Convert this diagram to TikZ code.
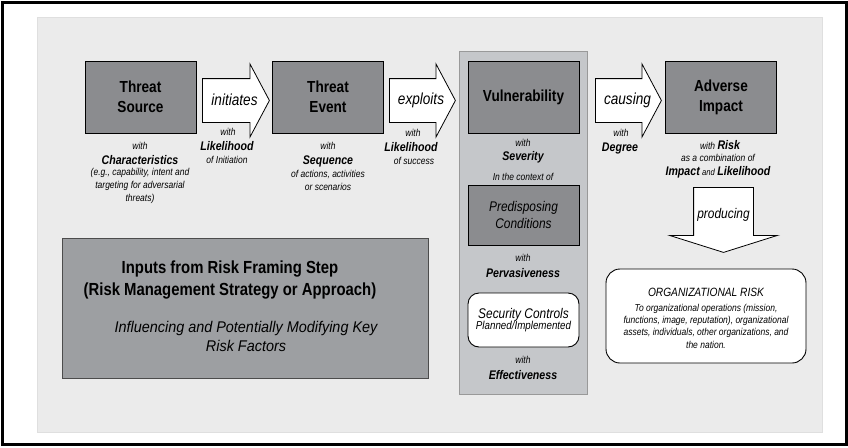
\documentclass[tikz,border=0pt]{standalone}
\usepackage{fontspec}
\setmainfont{Liberation Sans}[FakeStretch=0.85]
\newfontfamily\myriad{Liberation Sans}[FakeStretch=0.93]
\usetikzlibrary{shapes.arrows}

\definecolor{cinzaesc}{HTML}{8B8C8F}
\definecolor{cinzafundo}{HTML}{EBEBEB}
\definecolor{cinzacol}{HTML}{C5C7CA}
\definecolor{cinzaent}{HTML}{9D9FA2}

\begin{document}
\begin{tikzpicture}[
    x=1pt, y=-1pt,
    % Caixas escuras principais
    caixa/.style={
        draw, line width=0.9pt, fill=cinzaesc, inner sep=0pt,
        font=\fontsize{16}{20}\selectfont\bfseries,
        minimum width=111pt, minimum height=72pt, align=center
    },
    % Caixas brancas arredondadas
    caixab/.style={
        draw, line width=0.9pt, fill=white, rounded corners=11pt,
        inner sep=0pt, align=center
    },
    % Setas largas (sem texto; rótulo por cima)
    seta/.style={
        draw, line width=0.8pt, fill=white, single arrow, anchor=tail,
        single arrow head extend=14.5pt, single arrow head indent=0pt,
        single arrow tip angle=124, minimum height=67pt,
        inner xsep=0pt, inner ysep=21.5pt
    },
    rotseta/.style={inner sep=0pt, font=\fontsize{16}{18}\selectfont\itshape},
    % Textos
    com/.style={font=\fontsize{10}{13}\selectfont\itshape, inner sep=0pt, align=center},
    chave/.style={font=\fontsize{12.5}{14}\selectfont\bfseries\itshape, inner sep=0pt}
]
\useasboundingbox (0,0) rectangle (848,447);

% ---- FUNDO ----
\draw[line width=3pt] (2,2) rectangle (846,444);
\draw[fill=cinzafundo, draw=gray!25] (37,17) rectangle (822,432);
\draw[fill=cinzacol, draw=gray!80, line width=1pt] (459,51) rectangle (587,394);

% ---- NÍVEL 0: CAIXAS ----
\node[caixa] (fonte)   at (140.5,97) {Threat\\Source};
\node[caixa] (evento)  at (328,97)   {Threat\\Event};
\node[caixa] (vuln)    at (523.5,97) {Vulnerability};
\node[caixa] (impacto) at (721,97)   {Adverse\\Impact};

% ---- SETAS ----
\node[seta] (s_inic) at (202,100.5) {};
\node[seta, minimum height=66pt] (s_expl) at (389,100.5) {};
\node[seta, minimum height=66pt] (s_caus) at (595,100.5) {};
\node[rotseta] (s_inic_txt) at (234.5,100) {initiates};
\node[rotseta] (s_expl_txt) at (421,100)   {exploits};
\node[rotseta] (s_caus_txt) at (627.5,100) {causing};

% ---- FONTE DA AMEAÇA ----
\node[com]   (f_with) at (140,146) {with};
\node[chave] (f_car)  at (140,160) {Characteristics};
\node[com]   (f_nota) at (140,186) {(e.g., capability, intent and\\targeting for adversarial\\threats)};

\node[com]   (i_with) at (228,132) {with};
\node[chave] (i_prob) at (227,146) {Likelihood};
\node[com]   (i_nota) at (227,160) {of Initiation};

% ---- EVENTO ----
\node[com]   (e_with) at (328,146) {with};
\node[chave] (e_seq)  at (328,161) {Sequence};
\node[com]   (e_nota) at (328,180) {of actions, activities\\or scenarios};

\node[com]   (x_with) at (413,133) {with};
\node[chave] (x_prob) at (411,147) {Likelihood};
\node[com]   (x_nota) at (414,161) {of success};

% ---- VULNERABILIDADE ----
\node[com]   (v_with) at (523,143) {with};
\node[chave] (v_sev)  at (523,157) {Severity};
\node[com]   (v_ctx)  at (523,177) {In the context of};

\node[caixa, minimum height=60pt, font=\fontsize{14}{17}\selectfont\itshape]
    (predisp) at (523.5,215) {Predisposing\\Conditions};

\node[com]   (p_with) at (523,258) {with};
\node[chave] (p_perv) at (523,273) {Pervasiveness};

\node[caixab, minimum width=111pt, minimum height=54pt] (controles) at (523.5,320)
    {{\fontsize{14}{15}\selectfont\itshape Security Controls}\\[-1pt]
     {\fontsize{11.5}{13}\selectfont\itshape Planned/Implemented}};

\node[com]   (c_with) at (523,360) {with};
\node[chave] (c_efet) at (523,375) {Effectiveness};

% ---- IMPACTO ----
\node[com]   (d_with) at (621,133) {with};
\node[chave] (d_grau) at (620,148) {Degree};

\node[inner sep=0pt] (a_risco) at (720,145)
    {{\fontsize{10}{12}\selectfont\itshape with} {\fontsize{12.5}{14}\selectfont\bfseries\itshape Risk}};
\node[com]   (a_comb) at (718,158) {as a combination of};
\node[inner sep=0pt] (a_fat) at (718,172)
    {{\fontsize{12.5}{14}\selectfont\bfseries\itshape Impact}
     {\fontsize{9}{12}\selectfont\itshape and}
     {\fontsize{12.5}{14}\selectfont\bfseries\itshape Likelihood}};

% Seta para baixo (corpo 59, cabeça 107)
\node[draw, line width=0.8pt, fill=white, single arrow, shape border rotate=270,
      anchor=tail, single arrow head indent=0pt, single arrow head extend=24pt,
      single arrow tip angle=145, minimum height=65pt,
      inner xsep=29.5pt, inner ysep=0pt]
    (s_prod) at (723.5,187) {};
\node[inner sep=0pt, font=\fontsize{14}{16}\selectfont\itshape] (s_prod_txt) at (723.5,215) {producing};

% ---- RISCO ORGANIZACIONAL ----
\node[caixab, minimum width=200pt, minimum height=94pt, rounded corners=14pt]
    (orgrisco) at (706,316) {};
\node[inner sep=0pt, font=\fontsize{12}{14}\selectfont\itshape] (o_tit) at (706,292) {ORGANIZATIONAL RISK};
\node[com, font=\fontsize{10}{12.3}\selectfont\itshape] (o_nota) at (706,326)
    {To organizational operations (mission,\\functions, image, reputation), organizational\\assets, individuals, other organizations, and\\the nation.};

% ---- ENTRADAS DO ENQUADRAMENTO ----
\node[draw=gray!60!black, line width=1pt, fill=cinzaent, minimum width=366pt,
      minimum height=140pt] (entradas) at (245,308) {};
\node[inner sep=0pt, align=center, font=\fontsize{17.5}{22}\selectfont\bfseries]
    (ent_tit) at (230,280) {Inputs from Risk Framing Step\\(Risk Management Strategy or Approach)};
\node[inner sep=0pt, align=center, font=\myriad\fontsize{15.5}{19}\selectfont\itshape]
    (ent_sub) at (246,336.5) {Influencing and Potentially Modifying Key\\Risk Factors};

\end{tikzpicture}
\end{document}
